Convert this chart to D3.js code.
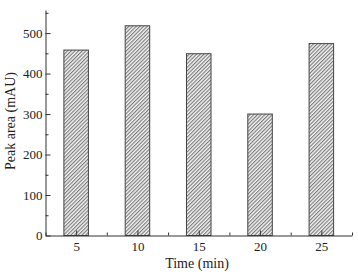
<!DOCTYPE html>
<html><head><meta charset="utf-8">
<script src="https://cdn.jsdelivr.net/npm/d3@7"></script>
<style>body{margin:0;background:#fff}</style>
</head><body><svg id="c" width="358" height="274"></svg>
<script>
const times = [5, 10, 15, 20, 25];
const peakArea = [458, 518, 449, 300, 474];
const yTicks = [0, 100, 200, 300, 400, 500];
const xTicks = [5, 10, 15, 20, 25];

const FONT = "Liberation Serif";
const svg = d3.select("#c");
const m = {l: 45.5, r: 352, t: 10, b: 235.5};
const x = d3.scaleLinear().domain([2.5, 27.5]).range([m.l, m.r]);
const y = d3.scaleLinear().domain([0, 557]).range([m.b, m.t]);

const defs = svg.append("defs");
const pat = defs.append("pattern").attr("id", "hatch").attr("patternUnits", "userSpaceOnUse")
  .attr("width", 2.6).attr("height", 2.6).attr("patternTransform", "rotate(45)");
pat.append("rect").attr("width", 2.6).attr("height", 2.6).attr("fill", "#f4f4f4");
pat.append("line").attr("x1", 0.6).attr("y1", 0).attr("x2", 0.6).attr("y2", 2.6)
  .attr("stroke", "#6a6a6a").attr("stroke-width", 1);

const bw = x(7) - x(5);
svg.selectAll("rect.bar").data(times).enter().append("rect").attr("class", "bar")
  .attr("x", (d) => x(d) - bw / 2)
  .attr("width", bw)
  .attr("y", (d, i) => y(peakArea[i]))
  .attr("height", (d, i) => y(0) - y(peakArea[i]))
  .attr("fill", "url(#hatch)").attr("stroke", "#444").attr("stroke-width", 1);

const ya = svg.append("g").attr("transform", `translate(${m.l},0)`)
  .call(d3.axisLeft(y).tickValues(yTicks).tickSizeInner(-5).tickSizeOuter(0).tickPadding(3));
svg.append("g").attr("transform", `translate(${m.l},0)`)
  .call(d3.axisLeft(y).tickValues(d3.range(50, 557, 100)).tickSizeInner(-3).tickSizeOuter(0).tickFormat(""))
  .select(".domain").remove();
const xa = svg.append("g").attr("transform", `translate(0,${m.b})`)
  .call(d3.axisBottom(x).tickValues(xTicks).tickSizeInner(-5).tickSizeOuter(0).tickPadding(4));
svg.append("g").attr("transform", `translate(0,${m.b})`)
  .call(d3.axisBottom(x).tickValues([2.5, 7.5, 12.5, 17.5, 22.5, 27.5]).tickSizeInner(-3).tickSizeOuter(0).tickFormat(""))
  .select(".domain").remove();

svg.selectAll("g").attr("font-family", FONT);
svg.selectAll(".domain, .tick line").attr("stroke", "#333");
svg.selectAll(".tick text").attr("font-size", 13).attr("fill", "#222").attr("font-family", FONT);
xa.selectAll(".tick text").attr("dy", "0.85em");

svg.append("text").attr("x", 197).attr("y", 268).attr("text-anchor", "middle")
  .attr("font-family", FONT).attr("fill", "#222").attr("font-size", 14).text("Time (min)");
svg.append("text").attr("transform", "translate(15,121) rotate(-90)").attr("text-anchor", "middle")
  .attr("font-family", FONT).attr("fill", "#222").attr("font-size", 14).text("Peak area (mAU)");
</script></body></html>
